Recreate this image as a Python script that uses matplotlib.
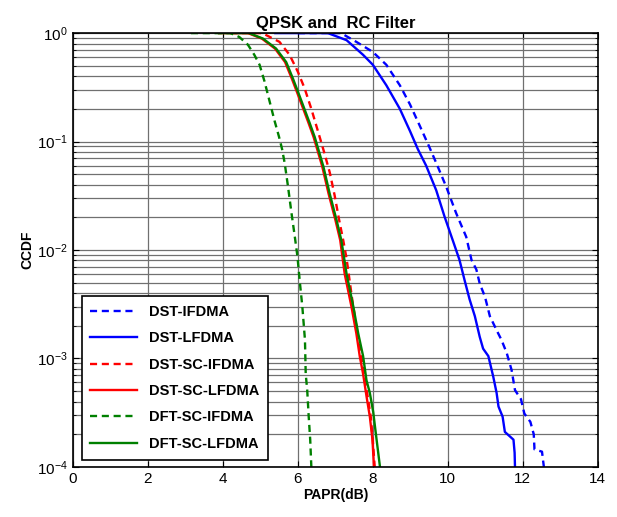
import matplotlib
matplotlib.use('Agg')
import matplotlib.pyplot as plt

plt.rcParams['font.family'] = ['Liberation Sans', 'DejaVu Sans']

# DST-IFDMA (blue dashed)
x_dst_i = [6.0, 7.15, 7.56, 8.0, 8.36, 8.72, 8.99, 9.25, 9.5, 9.72, 9.96, 10.22, 10.49, 10.63, 10.76,
           10.85, 10.99, 11.12, 11.3, 11.43, 11.57, 11.7, 11.79, 11.95, 12.04, 12.2, 12.29, 12.31,
           12.51, 12.56]
y_dst_i = [1, 1, 0.83, 0.67, 0.51, 0.33, 0.22, 0.14, 0.09, 0.06, 0.038, 0.0219, 0.0132, 0.0081,
           0.0066, 0.0049, 0.0037, 0.00245, 0.00182, 0.00148, 0.00112, 0.00078, 0.00051, 0.00042,
           0.00031, 0.00026, 0.0002, 0.000145, 0.000138, 0.0001]

# DST-LFDMA (blue solid)
x_dst_l = [5.4, 6.8, 7.3, 7.74, 8.0, 8.36, 8.72, 8.99, 9.2, 9.42, 9.69, 9.91, 10.13, 10.31, 10.45,
           10.58, 10.72, 10.85, 10.94, 11.08, 11.21, 11.3, 11.35, 11.46, 11.52, 11.66, 11.75, 11.78,
           11.79]
y_dst_l = [1, 1, 0.86, 0.63, 0.51, 0.33, 0.2, 0.125, 0.085, 0.06, 0.0355, 0.0204, 0.0123, 0.0081,
           0.0052, 0.0035, 0.00245, 0.00158, 0.00123, 0.00105, 0.00068, 0.00048, 0.00036, 0.00029,
           0.00021, 0.00019, 0.000178, 0.000135, 0.0001]

# DST-SC-IFDMA (red dashed)
x_dstsc_i = [4.2, 5.05, 5.51, 5.78, 6.0, 6.18, 6.36, 6.55, 6.7, 6.85, 6.98, 7.1, 7.21, 7.3, 7.45,
             7.58, 7.68, 7.78, 7.86, 7.95, 8.0, 8.05]
y_dstsc_i = [1, 1, 0.83, 0.63, 0.44, 0.31, 0.2, 0.12, 0.08, 0.052, 0.032, 0.019, 0.0123, 0.0083,
             0.0035, 0.0018, 0.0011, 0.0007, 0.00045, 0.00028, 0.00017, 0.0001]

# DST-SC-LFDMA (red solid)
x_dstsc_l = [3.9, 4.67, 5.04, 5.39, 5.66, 5.84, 5.97, 6.1, 6.28, 6.42, 6.65, 6.82, 7.0, 7.13, 7.25,
             7.43, 7.56, 7.65, 7.74, 7.83, 7.92, 7.99, 8.03]
y_dstsc_l = [1, 1, 0.89, 0.72, 0.54, 0.38, 0.29, 0.22, 0.15, 0.11, 0.059, 0.033, 0.019, 0.0123, 0.006,
             0.003, 0.0017, 0.00105, 0.00072, 0.00045, 0.00029, 0.000178, 0.0001]

# DFT-SC-IFDMA (green dashed)
x_dft_i = [3.15, 4.2, 4.44, 4.67, 4.84, 4.98, 5.11, 5.24, 5.38, 5.5, 5.58, 5.65, 5.74, 5.83, 5.92,
           5.99, 6.05, 6.12, 6.19, 6.21, 6.25, 6.29, 6.33, 6.36]
y_dft_i = [1, 1, 0.92, 0.78, 0.63, 0.51, 0.36, 0.24, 0.155, 0.11, 0.085, 0.063, 0.038, 0.022, 0.0132,
           0.0087, 0.0052, 0.003, 0.00148, 0.00072, 0.00051, 0.00029, 0.000178, 0.0001]

# DFT-SC-LFDMA (green solid)
x_dft_l = [3.9, 4.7, 5.07, 5.42, 5.69, 5.87, 6.0, 6.13, 6.31, 6.45, 6.68, 6.85, 7.03, 7.16, 7.30,
           7.48, 7.61, 7.74, 7.83, 7.92, 8.01, 8.10, 8.19]
y_dft_l = [1, 1, 0.89, 0.72, 0.54, 0.38, 0.29, 0.22, 0.15, 0.11, 0.059, 0.033, 0.019, 0.0123, 0.006,
           0.003, 0.0017, 0.00105, 0.00063, 0.00048, 0.00032, 0.000178, 0.0001]

fig = plt.figure(figsize=(6.17, 5.17), dpi=100)
ax = fig.add_axes([0.118, 0.097, 0.851, 0.839])

dash = (3, 2)
lw = 1.7
ax.semilogy(x_dst_i, y_dst_i, color='#0000ff', lw=lw, dashes=dash, label='DST-IFDMA')
ax.semilogy(x_dst_l, y_dst_l, color='#0000ff', lw=lw, label='DST-LFDMA')
ax.semilogy(x_dstsc_i, y_dstsc_i, color='#ff0000', lw=lw, dashes=dash, label='DST-SC-IFDMA')
ax.semilogy(x_dstsc_l, y_dstsc_l, color='#ff0000', lw=lw, label='DST-SC-LFDMA')
ax.semilogy(x_dft_i, y_dft_i, color='#008000', lw=lw, dashes=dash, label='DFT-SC-IFDMA')
ax.semilogy(x_dft_l, y_dft_l, color='#008000', lw=lw, label='DFT-SC-LFDMA')

ax.set_xlim(0, 14)
ax.set_ylim(1e-4, 1)
ax.set_xticks(range(0, 15, 2))
ax.grid(True, which='major', color='#707070', lw=0.9)
ax.grid(True, which='minor', axis='y', color='#707070', lw=0.9)
ax.tick_params(which='both', direction='in', top=True, right=True, labelsize=11)
ax.tick_params(which='major', length=4)
ax.tick_params(which='minor', length=2)
for s in ax.spines.values():
    s.set_linewidth(1.2)

ax.set_title('QPSK and  RC Filter', fontsize=12, fontweight='bold', pad=4)
ax.set_xlabel('PAPR(dB)', fontsize=10, fontweight='bold', labelpad=2)
ax.set_ylabel('CCDF', fontsize=10, fontweight='bold', labelpad=2)

leg = ax.legend(loc='lower left', bbox_to_anchor=(0.003, 0.0), prop={'weight': 'bold', 'size': 10.5},
                handlelength=3.2, labelspacing=0.85, borderpad=0.6, fancybox=False,
                edgecolor='black', framealpha=1)
leg.get_frame().set_linewidth(1.2)

fig.savefig('out.png', dpi=100)
